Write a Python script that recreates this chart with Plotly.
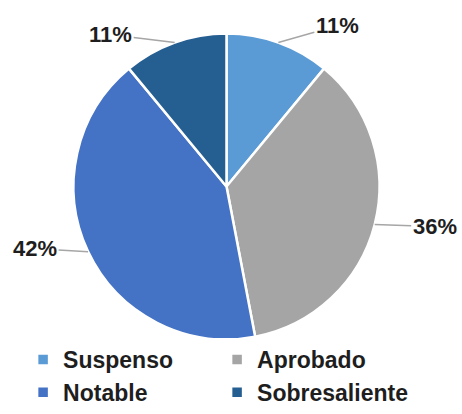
import math
import plotly.graph_objects as go

categories = ["Suspenso", "Aprobado", "Notable", "Sobresaliente"]
values = [11, 36, 42, 11]
colors = ["#5B9BD5", "#A5A5A5", "#4472C4", "#255E91"]
# pixel offsets of each percentage label from the rim of its slice
label_offsets = [(59, -17), (60, 2), (-53, -3), (-64, -8)]

W, H = 462, 414
cx, cy = 226.5, 186.5   # pie centre in pixels
R = 153                 # pie radius in pixels

fig = go.Figure(go.Pie(
    labels=categories,
    values=values,
    sort=False,
    direction="clockwise",
    rotation=0,
    textinfo="none",
    hoverinfo="label+percent",
    marker=dict(colors=colors, line=dict(color="white", width=2.5)),
    domain=dict(x=[(cx - R) / W, (cx + R) / W],
                y=[1 - (cy + R) / H, 1 - (cy - R) / H]),
))

total = sum(values)
cum = 0
for v, (dx, dy) in zip(values, label_offsets):
    mid = (cum + v / 2) / total * 2 * math.pi
    cum += v
    ex = cx + R * math.sin(mid)
    ey = cy - R * math.cos(mid)
    fig.add_annotation(
        x=ex / W, y=1 - ey / H, xref="paper", yref="paper",
        text=f"{round(v / total * 100)}%",
        showarrow=True, arrowhead=0, arrowwidth=1.5, arrowcolor="#A6A6A6",
        ax=dx, ay=dy, standoff=0,
        font=dict(family="Liberation Sans", size=22, color="#1E1E1E", weight="bold"),
    )

fig.update_layout(
    width=W, height=H,
    margin=dict(l=0, r=0, t=0, b=0),
    paper_bgcolor="white",
    plot_bgcolor="white",
    font=dict(family="Liberation Sans"),
    showlegend=True,
    legend=dict(
        orientation="h",
        x=0.05, y=0, xanchor="left", yanchor="bottom",
        entrywidth=149, entrywidthmode="pixels",
        font=dict(family="Liberation Sans", size=23, color="#1E1E1E", weight="bold"),
        itemclick=False,
    ),
)

fig.write_html("out.html")
